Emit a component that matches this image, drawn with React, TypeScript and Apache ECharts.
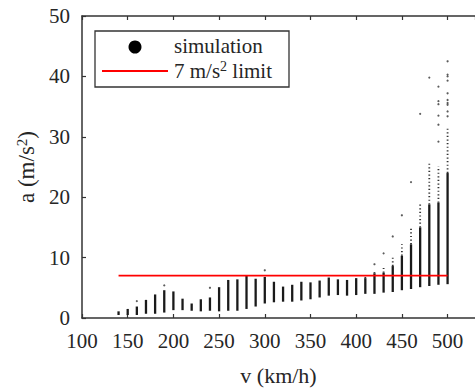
import React, { useEffect, useRef } from "react";
import * as echarts from "echarts";

// speed columns (km/h)
const speeds = [140, 150, 160, 170, 180, 190, 200, 210, 220, 230, 240, 250, 260, 270, 280, 290, 300, 310, 320, 330, 340, 350, 360, 370, 380, 390, 400, 410, 420, 430, 440, 450, 460, 470, 480, 490, 500];
// bottom of each dense column (m/s^2)
const lows = [0.5, 0.5, 0.5, 0.7, 0.7, 0.9, 1.3, 1.3, 1.2, 1.1, 1.2, 1.1, 1.2, 1.2, 1.5, 1.9, 2.4, 2.6, 2.7, 2.7, 2.9, 3.1, 3.4, 3.7, 3.8, 3.7, 3.8, 4.0, 4.0, 4.2, 4.3, 4.6, 4.8, 5.1, 5.3, 5.5, 5.6];
// top of the dense part of each column
const highs = [1.1, 1.5, 1.9, 3.0, 3.9, 4.6, 4.4, 3.2, 2.4, 3.1, 3.4, 5.1, 6.3, 6.4, 7.1, 6.5, 6.8, 6.0, 5.2, 5.5, 6.0, 5.9, 6.2, 6.7, 6.4, 6.3, 6.6, 6.6, 7.4, 7.5, 8.6, 10.3, 12.2, 15.0, 18.8, 19.1, 24.0];
// top of the sparse (dotted) part of each column
const sparseTops = [1.1, 1.5, 1.9, 3.0, 3.9, 4.6, 4.4, 3.2, 2.4, 3.1, 3.4, 5.1, 6.3, 6.4, 7.1, 6.5, 6.8, 6.0, 5.2, 5.5, 6.0, 5.9, 6.2, 6.7, 6.4, 6.3, 6.6, 7.0, 7.6, 8.7, 10.4, 12.2, 15.2, 19.0, 25.7, 25.1, 31.7];
// isolated simulation points [v, a]
const outliers: [number, number][] = [
  [160, 2.8], [190, 5.4], [240, 5.0], [300, 7.9], [420, 8.9], [430, 10.7], [440, 13.5], [450, 17.0], [460, 22.5],
  [470, 33.8], [480, 39.8],
  [490, 38.3], [490, 35.9], [490, 35.4], [490, 33.5], [490, 32.0], [490, 29.2],
  [500, 42.5], [500, 40.3], [500, 40.0], [500, 39.3], [500, 37.2], [500, 36.1], [500, 35.6], [500, 35.3], [500, 34.2], [500, 33.4],
];
// limit line
const limitValue = 7;
const limitRange = [140, 500];
const xTicks = [100, 150, 200, 250, 300, 350, 400, 450, 500];
const yTicks = [0, 10, 20, 30, 40, 50];

const FONT = "Liberation Serif, Times New Roman, serif";
const AXIS_COLOR = "#333";
const TEXT_COLOR = "#262626";

export default function App() {
  const ref = useRef<HTMLDivElement>(null);
  useEffect(() => {
    if (!ref.current) return;
    const chart = echarts.init(ref.current, undefined, { renderer: "svg" });
    const columnData = speeds.map((v, i) => [v, lows[i], highs[i], sparseTops[i]]);
    const axisLine = { show: true, lineStyle: { color: AXIS_COLOR, width: 1.5 } };
    const option: any = {
      animation: false,
      backgroundColor: "#fff",
      grid: { left: 82, right: 0, top: 16, bottom: 70, containLabel: false, outerBoundsMode: "none" },
      xAxis: [
        {
          type: "value",
          min: xTicks[0],
          max: 530,
          interval: 50,
          position: "bottom",
          name: "v (km/h)",
          nameLocation: "middle",
          nameGap: 46,
          nameTextStyle: { fontFamily: FONT, fontSize: 22, color: TEXT_COLOR },
          axisLine,
          axisTick: { show: true, inside: true, length: 4, lineStyle: { color: AXIS_COLOR, width: 1.2 } },
          axisLabel: {
            fontFamily: FONT,
            fontSize: 21,
            color: TEXT_COLOR,
            margin: 12,
            showMaxLabel: false,
            formatter: (v: number) => (xTicks.includes(v) ? String(v) : ""),
          },
          splitLine: { show: false },
        },
        {
          type: "value",
          min: xTicks[0],
          max: 530,
          interval: 50,
          position: "top",
          axisLine,
          axisTick: { show: true, inside: true, length: 4, lineStyle: { color: AXIS_COLOR, width: 1.2 } },
          axisLabel: { show: false },
          splitLine: { show: false },
        },
      ],
      yAxis: {
        type: "value",
        min: yTicks[0],
        max: yTicks[yTicks.length - 1],
        interval: 10,
        name: "a (m/s{sup|2})",
        nameLocation: "middle",
        nameGap: 38,
        nameTextStyle: {
          fontFamily: FONT,
          fontSize: 23,
          color: TEXT_COLOR,
          rich: { sup: { fontFamily: FONT, fontSize: 15, color: TEXT_COLOR, verticalAlign: "top", padding: [0, 0, 10, 0] } },
        },
        axisLine,
        axisTick: { show: true, inside: true, length: 4, lineStyle: { color: AXIS_COLOR, width: 1.2 } },
        axisLabel: { fontFamily: FONT, fontSize: 21, color: TEXT_COLOR, margin: 12 },
        splitLine: { show: false },
      },
      series: [
        {
          type: "custom",
          name: "simulation",
          data: columnData,
          encode: { x: 0, y: [1, 2, 3] },
          z: 2,
          renderItem: (params: any, api: any) => {
            const v = api.value(0);
            const lo = api.value(1);
            const hi = api.value(2);
            const top = api.value(3);
            const pLo = api.coord([v, lo]);
            const pHi = api.coord([v, hi]);
            const pTop = api.coord([v, top]);
            const w = 2.3;
            const children: any[] = [
              {
                type: "rect",
                shape: { x: pLo[0] - w / 2, y: pHi[1], width: w, height: Math.max(1, pLo[1] - pHi[1]) },
                style: { fill: "#1a1a1a" },
              },
            ];
            if (top > hi) {
              children.push({
                type: "line",
                shape: { x1: pHi[0], y1: pHi[1], x2: pTop[0], y2: pTop[1] },
                style: { stroke: "#333", lineWidth: 1.8, lineDash: [1.2, 2.4] },
              });
            }
            return { type: "group", children };
          },
        },
        {
          type: "scatter",
          name: "simulation points",
          data: outliers,
          symbol: "circle",
          symbolSize: 2.2,
          itemStyle: { color: "#333" },
          z: 3,
        },
        {
          type: "line",
          name: "limit",
          data: limitRange.map((v) => [v, limitValue]),
          symbol: "none",
          lineStyle: { color: "#ff0000", width: 1.8 },
          z: 5,
        },
      ],
      graphic: [
        {
          type: "rect",
          shape: { x: 95, y: 31, width: 194, height: 56 },
          style: { fill: "#fff", stroke: AXIS_COLOR, lineWidth: 1.3 },
          z: 10,
        },
        {
          type: "circle",
          shape: { cx: 135, cy: 47, r: 6.5 },
          style: { fill: "#000" },
          z: 11,
        },
        {
          type: "line",
          shape: { x1: 102, y1: 71, x2: 168, y2: 71 },
          style: { stroke: "#ff0000", lineWidth: 2 },
          z: 11,
        },
        {
          type: "text",
          x: 174,
          y: 46,
          style: { text: "simulation", fontFamily: FONT, fontSize: 21, fill: TEXT_COLOR, verticalAlign: "middle", align: "left" },
          z: 11,
        },
        {
          type: "text",
          x: 174,
          y: 71,
          style: {
            text: "7 m/s{sup|2} limit",
            fontFamily: FONT,
            fontSize: 21,
            fill: TEXT_COLOR,
            verticalAlign: "middle",
            align: "left",
            rich: { sup: { fontFamily: FONT, fontSize: 14, fill: TEXT_COLOR, verticalAlign: "top", padding: [0, 0, 9, 0] } },
          },
          z: 11,
        },
      ],
    };
    chart.setOption(option);
    return () => chart.dispose();
  }, []);
  return <div ref={ref} style={{ width: 475, height: 388, position: "absolute", left: 0, top: 0 }} />;
}
